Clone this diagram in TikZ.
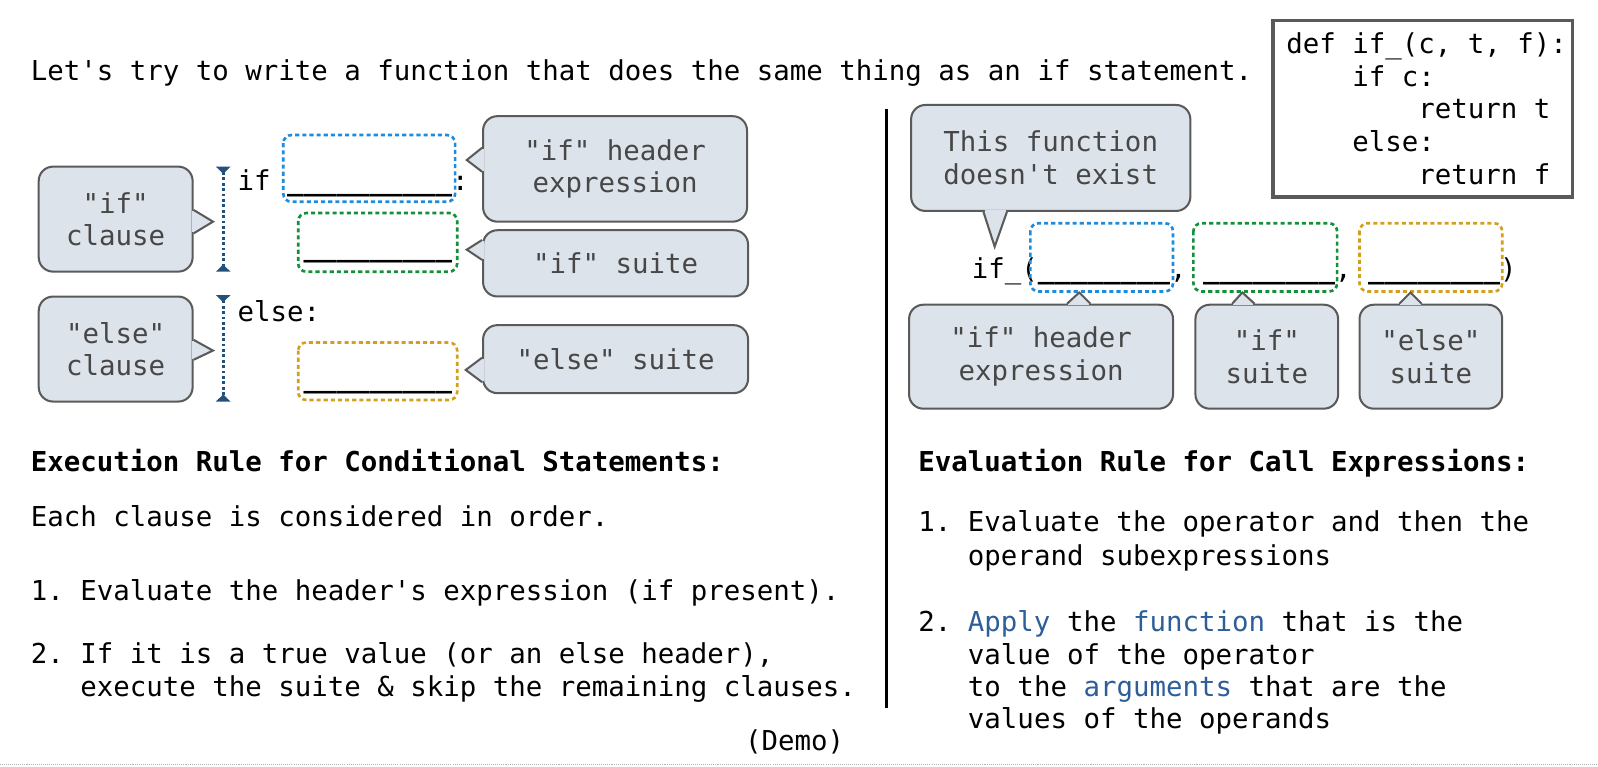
\documentclass[tikz,border=0pt]{standalone}
\usepackage{fontspec}
\setmonofont{DejaVu Sans Mono}
\usepackage{xcolor}
\usetikzlibrary{arrows.meta}

\definecolor{bubblefill}{HTML}{DDE3EA}
\definecolor{bubbleline}{HTML}{5A5A5A}
\definecolor{bubbletext}{HTML}{474747}
\definecolor{exprblue}{HTML}{1E8BDB}
\definecolor{suitegreen}{HTML}{13913A}
\definecolor{elseorange}{HTML}{D2A01E}
\definecolor{clauseblue}{HTML}{24507E}
\definecolor{keyblue}{HTML}{2E5E99}

% pointer of a speech bubble: base point, tip, base point
\newcommand{\bubbletip}[3]{%
  \fill[bubblefill] #1 -- #2 -- #3 -- cycle;
  \draw[bubblefill, line width=3pt, shorten <=1.1pt, shorten >=1.1pt] #1 -- #3;
  \draw[bubbleline, line width=2pt, line join=miter] #1 -- #2 -- #3;
}
% blank to fill in
\newcommand{\blank}[1]{{\bfseries\foreach \k in {1,...,#1}{\_}}}

\begin{document}
\begin{tikzpicture}[
    x=1pt, y=-1pt,
    every node/.style={font=\ttfamily\fontsize{26.9}{32}\selectfont, inner sep=0pt},
    txt/.style={anchor=base west},
    bubble/.style={draw=bubbleline, fill=bubblefill, line width=2pt, rounded corners=14pt, text=bubbletext, align=center},
    slot/.style={line width=2.6pt, rounded corners=8pt, dash pattern=on 4pt off 3pt},
    clausebar/.style={clauseblue, line width=3pt, dash pattern=on 2.7pt off 2.6pt, {Triangle[reversed, width=14pt, length=7pt]}-{Triangle[reversed, width=14pt, length=7pt]}},
    codebox/.style={draw=bubbleline, line width=3.5pt}
]
\useasboundingbox (0,0) rectangle (1568,752);

% Title
\node[txt] (title) at (30,79) {Let's try to write a function that does the same thing as an if statement.};

% Definition of if_
\node[codebox, minimum width=294, minimum height=173] (codebox) at (1396,106.6) {};
\foreach \t [count=\i from 0] in {{def if\_(c, t, f):}, {\hphantom{0000}if c:}, {\hphantom{00000000}return t}, {\hphantom{0000}else:}, {\hphantom{00000000}return f}}
  \node[txt] (code\i) at (1262,{52.3+32.15*\i}) {\t};

% Divider
\draw[line width=2.5pt] (870,107) -- (870,695);

% ---------- Conditional statement ----------
\node[txt] (ifkw) at (233,187) {if \blank{10}:};
\node[txt] (ifblank) at (297.8,251.5) {\blank{9}};
\node[txt] (elsekw) at (233,315.6) {else:};
\node[txt] (elseblank) at (297.8,380) {\blank{9}};

\draw[slot, exprblue] (278,132.5) rectangle (446.6,198);
\draw[slot, suitegreen] (292.6,209) rectangle (448.6,266.6);
\draw[slot, elseorange] (292.6,336) rectangle (448.6,392.5);

\draw[clausebar] (219,163.5) -- (219,266.6);
\draw[clausebar] (219,289.5) -- (219,394);

% Bubbles, left
\node[bubble, minimum width=151, minimum height=103] (ifclause) at (113.5,215) {"if"\\clause};
\coordinate (ifclausetip) at (209,217.5);
\bubbletip{([yshift=9pt]ifclause.east)}{(ifclausetip)}{([yshift=-14pt]ifclause.east)}

\node[bubble, minimum width=151, minimum height=103] (elseclause) at (113.5,342.5) {"else"\\clause};
\coordinate (elseclausetip) at (209,344);
\bubbletip{([yshift=9pt]elseclause.east)}{(elseclausetip)}{([yshift=-10.5pt]elseclause.east)}

\node[bubble, minimum width=259, minimum height=103.5] (ifheader) at (603.5,165.75) {"if" header\\expression};
\coordinate (ifheadertip) at (458,157);
\bubbletip{([yshift=20.75pt]ifheader.west)}{(ifheadertip)}{([yshift=-2.75pt]ifheader.west)}

\node[bubble, minimum width=260, minimum height=65] (ifsuite) at (604,258.4) {"if" suite};
\coordinate (ifsuitetip) at (458,245);
\bubbletip{([yshift=22.9pt]ifsuite.west)}{(ifsuitetip)}{([yshift=3.4pt]ifsuite.west)}

\node[bubble, minimum width=260, minimum height=66.7] (elsesuite) at (604,352.4) {"else" suite};
\coordinate (elsesuitetip) at (457,363);
\bubbletip{([yshift=1.4pt]elsesuite.west)}{(elsesuitetip)}{([yshift=-22.6pt]elsesuite.west)}

% Rules, left
\node[txt, font=\ttfamily\bfseries\fontsize{26.9}{32}\selectfont] (execrule) at (30,462.8) {Execution Rule for Conditional Statements:};
\node[txt] (eachclause) at (30,516.8) {Each clause is considered in order.};
\node[txt] (exec1) at (30,588.8) {1. Evaluate the header's expression (if present).};
\node[txt] (exec2) at (30,650.8) {2. If it is a true value (or an else header),};
\node[txt] (exec2b) at (78.6,683.6) {execute the suite \& skip the remaining clauses.};

% ---------- Call expression ----------
\node[txt] (callexpr) at (953.5,273) {if\_(\blank{8}, \blank{8}, \blank{8})};

\draw[slot, exprblue] (1011,219) rectangle (1151,286);
\draw[slot, suitegreen] (1171,219) rectangle (1312,286);
\draw[slot, elseorange] (1334,219) rectangle (1474,286);

\node[bubble, minimum width=274, minimum height=104] (nofunc) at (1031,155) {This function\\doesn't exist};
\coordinate (nofunctip) at (976,242);
\bubbletip{([xshift=-66pt]nofunc.south)}{(nofunctip)}{([xshift=-43pt]nofunc.south)}

\node[bubble, minimum width=259, minimum height=102] (callheader) at (1021.5,350) {"if" header\\expression};
\coordinate (callheadertip) at (1059,287);
\bubbletip{([xshift=25.5pt]callheader.north)}{(callheadertip)}{([xshift=48.5pt]callheader.north)}

\node[bubble, minimum width=140, minimum height=102] (callsuite) at (1243,350) {"if"\\suite};
\coordinate (callsuitetip) at (1219,287);
\bubbletip{([xshift=-34pt]callsuite.north)}{(callsuitetip)}{([xshift=-12pt]callsuite.north)}

\node[bubble, minimum width=140, minimum height=102] (callelse) at (1404,350) {"else"\\suite};
\coordinate (callelsetip) at (1384,287);
\bubbletip{([xshift=-31pt]callelse.north)}{(callelsetip)}{([xshift=-9pt]callelse.north)}

% Rules, right
\node[txt, font=\ttfamily\bfseries\fontsize{26.9}{32}\selectfont] (evalrule) at (901,462.8) {Evaluation Rule for Call Expressions:};
\node[txt] (eval1) at (901,521.7) {1. Evaluate the operator and then the};
\node[txt] (eval1b) at (949.6,554.5) {operand subexpressions};
\node[txt] (eval2) at (901,620) {2. \textcolor{keyblue}{Apply} the \textcolor{keyblue}{function} that is the};
\node[txt] (eval2b) at (949.6,652) {value of the operator};
\node[txt] (eval2c) at (949.6,683.6) {to the \textcolor{keyblue}{arguments} that are the};
\node[txt] (eval2d) at (949.6,714.6) {values of the operands};

% Footer
\node[txt] (demo) at (731,736) {(Demo)};
\draw[gray!60, line width=0.8pt, dash pattern=on 1pt off 1pt] (0,750) -- (1568,750);

\end{tikzpicture}
\end{document}
